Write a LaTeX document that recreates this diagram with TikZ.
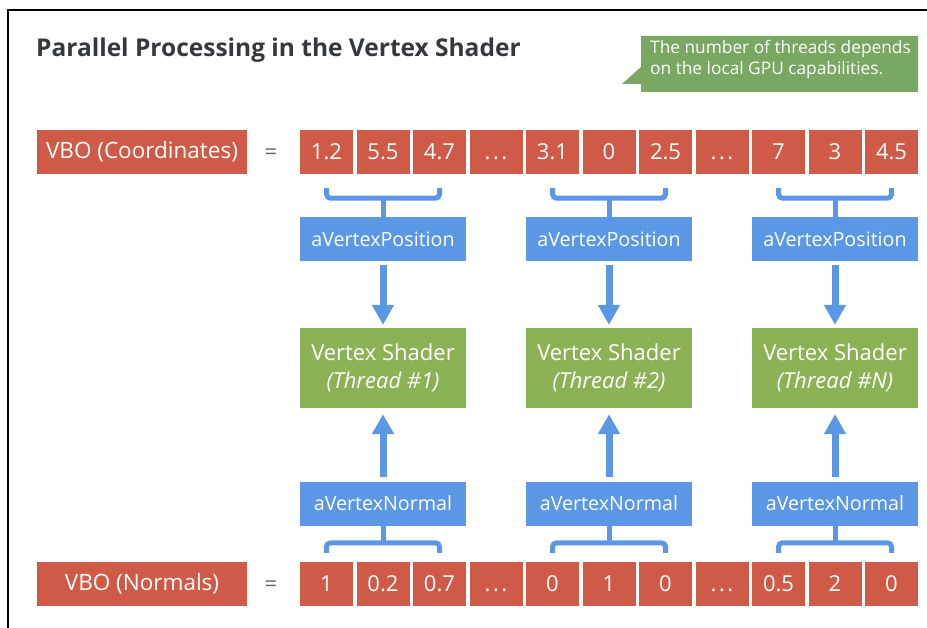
\documentclass[tikz,border=0pt]{standalone}
\usepackage{fontspec}
\setmainfont{Open Sans}
\usepackage{tikz}
\usetikzlibrary{calc}
\usetikzlibrary{arrows.meta}
\usetikzlibrary{positioning}
\definecolor{cellred}{HTML}{D05A48}
\definecolor{attrblue}{HTML}{5B97E5}
\definecolor{shadegreen}{HTML}{8BB355}
\definecolor{notegreen}{HTML}{79A863}
\definecolor{titlegray}{HTML}{35393D}
\newcommand{\skipdots}{\vphantom{0}.\kern2.5pt.\kern2.5pt.}
\tikzset{cell/.style={rectangle,fill=cellred,text=white,minimum width=53pt,minimum height=44pt,inner sep=0pt,font=\fontsize{22}{24}\selectfont}}
\tikzset{vbo/.style={rectangle,fill=cellred,text=white,minimum width=210pt,minimum height=44pt,inner sep=0pt,font=\fontsize{22.5}{24}\selectfont}}
\tikzset{attr/.style={rectangle,fill=attrblue,text=white,minimum width=166pt,minimum height=44pt,inner sep=0pt,font=\fontsize{19.7}{21}\selectfont}}
\tikzset{shader/.style={rectangle,fill=shadegreen,text=white,minimum width=166pt,minimum height=80pt,inner sep=0pt,align=center,font=\fontsize{22}{28}\selectfont}}
\tikzset{eq/.style={text=black!60,font=\fontsize{22}{24}\selectfont}}
\tikzset{brace/.style={draw=attrblue,line width=5pt,rounded corners=4pt}}
\tikzset{flow/.style={draw=attrblue,line width=7pt,-{Triangle[width=21pt,length=20pt]}}}

\begin{document}
\begin{tikzpicture}[x=1pt,y=-1pt]
  \useasboundingbox (0,0) rectangle (927,628);
  \draw[line width=2pt] (8,628) -- (8,10) -- (927,10);
  \node[anchor=base west,inner sep=0pt,text=titlegray,font=\fontsize{24.5}{28}\bfseries] (title) at (36,57) {Parallel Processing in the Vertex Shader};

  % callout
  \fill[notegreen] (641,36) -- (918,36) -- (918,92) -- (641,92) -- (641,84) -- (622,84) -- (641,67) -- cycle;
  \node[anchor=north west,text=white,align=left,inner sep=0pt,font=\fontsize{17.3}{21}\selectfont] (note) at (650,40) {The number of threads depends\\on the local GPU capabilities.};

  % coordinates buffer
  \node[vbo] (vboc) at (142,152) {VBO (Coordinates)};
  \node[eq] (eqc) at (271,154) {=};
  \node[cell] (c1) at (326.5,152) {1.2};
  \node[cell] (c2) at (383,152) {5.5};
  \node[cell] (c3) at (439.5,152) {4.7};
  \node[cell] (c4) at (496,152) {\skipdots};
  \node[cell] (c5) at (552.5,152) {3.1};
  \node[cell] (c6) at (609,152) {0};
  \node[cell] (c7) at (665.5,152) {2.5};
  \node[cell] (c8) at (722,152) {\skipdots};
  \node[cell] (c9) at (778.5,152) {7};
  \node[cell] (c10) at (835,152) {3};
  \node[cell] (c11) at (891.5,152) {4.5};

  % normals buffer
  \node[vbo] (vbon) at (142,584) {VBO (Normals)};
  \node[eq] (eqn) at (271,586) {=};
  \node[cell] (d1) at (326.5,584) {1};
  \node[cell] (d2) at (383,584) {0.2};
  \node[cell] (d3) at (439.5,584) {0.7};
  \node[cell] (d4) at (496,584) {\skipdots};
  \node[cell] (d5) at (552.5,584) {0};
  \node[cell] (d6) at (609,584) {1};
  \node[cell] (d7) at (665.5,584) {0};
  \node[cell] (d8) at (722,584) {\skipdots};
  \node[cell] (d9) at (778.5,584) {0.5};
  \node[cell] (d10) at (835,584) {2};
  \node[cell] (d11) at (891.5,584) {0};

  % attributes and threads
  \node[attr] (p1) at (383,239) {aVertexPosition};
  \node[attr] (p2) at (609,239) {aVertexPosition};
  \node[attr] (p3) at (835,239) {aVertexPosition};
  \node[shader] (s1) at (383,368) {Vertex Shader\\\textit{(Thread \#1)}};
  \node[shader] (s2) at (609,368) {Vertex Shader\\\textit{(Thread \#2)}};
  \node[shader] (s3) at (835,368) {Vertex Shader\\\textit{(Thread \#N)}};
  \node[attr] (n1) at (383,503.5) {aVertexNormal};
  \node[attr] (n2) at (609,503.5) {aVertexNormal};
  \node[attr] (n3) at (835,503.5) {aVertexNormal};

  % braces
  \draw[brace] ($(c1.south)+(0,14)$) |- ($(c3.south)+(0,24)$) -- ($(c3.south)+(0,14)$);
  \draw[brace] ($(c5.south)+(0,14)$) |- ($(c7.south)+(0,24)$) -- ($(c7.south)+(0,14)$);
  \draw[brace] ($(c9.south)+(0,14)$) |- ($(c11.south)+(0,24)$) -- ($(c11.south)+(0,14)$);
  \draw[brace] (p1.north) -- ($(c2.south)+(0,22)$);
  \draw[brace] (p2.north) -- ($(c6.south)+(0,22)$);
  \draw[brace] (p3.north) -- ($(c10.south)+(0,22)$);
  \draw[brace] ($(d1.north)+(0,-9)$) |- ($(d3.north)+(0,-19)$) -- ($(d3.north)+(0,-9)$);
  \draw[brace] ($(d5.north)+(0,-9)$) |- ($(d7.north)+(0,-19)$) -- ($(d7.north)+(0,-9)$);
  \draw[brace] ($(d9.north)+(0,-9)$) |- ($(d11.north)+(0,-19)$) -- ($(d11.north)+(0,-9)$);
  \draw[brace] (n1.south) -- ($(d2.north)+(0,-17)$);
  \draw[brace] (n2.south) -- ($(d6.north)+(0,-17)$);
  \draw[brace] (n3.south) -- ($(d10.north)+(0,-17)$);

  % arrows
  \draw[flow,shorten <=4pt,shorten >=3pt] (p1) -- (s1);
  \draw[flow,shorten <=4pt,shorten >=3pt] (p2) -- (s2);
  \draw[flow,shorten <=4pt,shorten >=3pt] (p3) -- (s3);
  \draw[flow,shorten <=4pt,shorten >=6pt] (n1) -- (s1);
  \draw[flow,shorten <=4pt,shorten >=6pt] (n2) -- (s2);
  \draw[flow,shorten <=4pt,shorten >=6pt] (n3) -- (s3);
\end{tikzpicture}
\end{document}
